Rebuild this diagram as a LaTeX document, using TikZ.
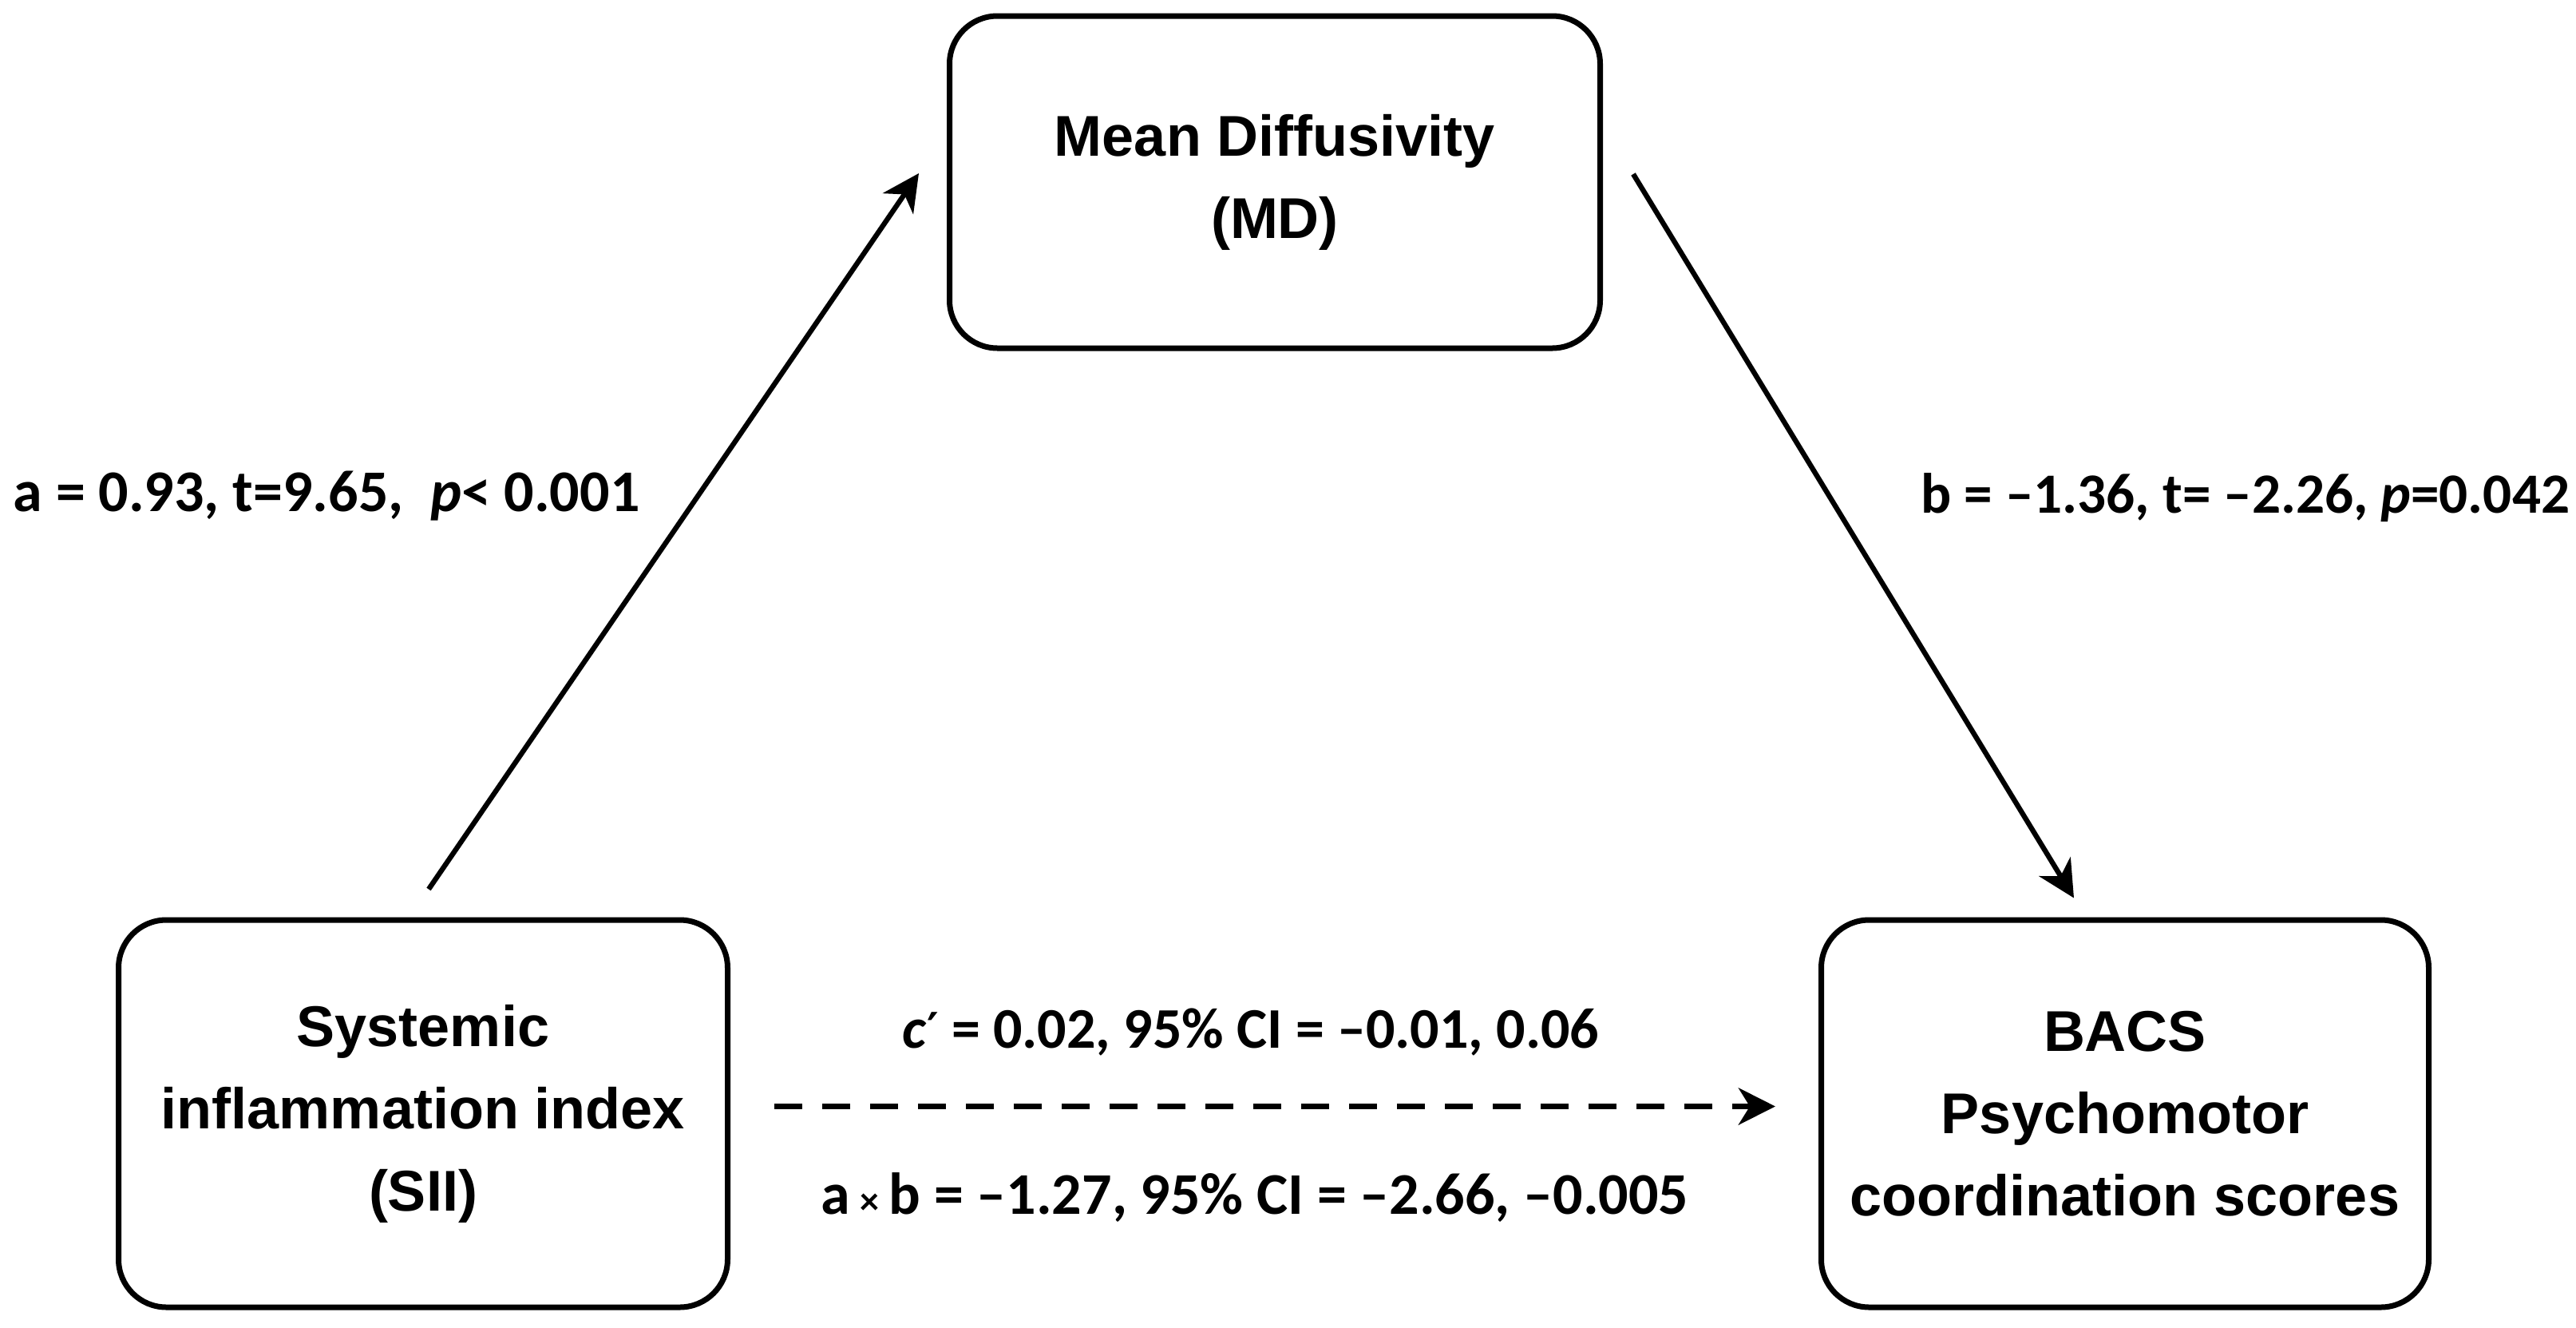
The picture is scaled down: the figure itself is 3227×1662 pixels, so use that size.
\documentclass[tikz,border=0pt]{standalone}
\usepackage{fontspec}
\setmainfont{Liberation Sans}
\newfontfamily\labfont{Carlito}
\newfontfamily\primefont{DejaVu Sans}
\usetikzlibrary{arrows.meta}
\begin{document}
\begin{tikzpicture}[x=0.25pt,y=-0.25pt,
  box/.style={draw, line width=1.75pt, rounded corners=15pt, inner sep=0pt, align=center,
    font=\fontsize{18}{25.75}\selectfont\bfseries},
  arr/.style={line width=1.6pt, -{Stealth[length=11.5pt,width=11.5pt,inset=3.5pt]}},
  lab/.style={inner sep=0pt, font=\labfont\bfseries\fontsize{18.5}{22}\selectfont}]
\useasboundingbox (0,0) rectangle (3227,1662);
\node[box, minimum width=203.75pt, minimum height=104pt] (md) at (1597,228) {Mean Diffusivity\\(MD)};
\node[box, minimum width=190.75pt, minimum height=121.25pt] (sii) at (530,1394.5) {Systemic\\inflammation index\\(SII)};
\node[box, minimum width=190.25pt, minimum height=121.25pt] (bacs) at (2662,1394.5) {BACS\\Psychomotor\\coordination scores};
\draw[arr] ([xshift=1.75pt,yshift=8.75pt]sii.north) -- ([xshift=-8.75pt,yshift=2.75pt]md.west);
\draw[arr] ([xshift=9.5pt,yshift=2.5pt]md.east) -- ([xshift=-16pt,yshift=6pt]bacs.north);
\draw[arr, line width=1.9pt, dash pattern=on 8.75pt off 6.25pt] ([xshift=13.75pt,yshift=2.25pt]sii.east) -- ([xshift=-13.5pt,yshift=2.25pt]bacs.west);
\node[lab, anchor=base west] (la) at (16,640) {a = 0.93, t=9.65, \ \textit{p}< 0.001};
\node[lab, anchor=base east, font=\labfont\bfseries\fontsize{17.8}{22}\selectfont] (lb) at (3220,642) {b = –1.36, t= –2.26, \textit{p}=0.042};
\node[lab, anchor=base, font=\labfont\bfseries\fontsize{18}{22}\selectfont] (lc) at (1567,1312) {\textit{c}{\primefont\fontsize{14}{14}\selectfont\raisebox{1pt}{′}} = 0.02, 95\% CI = –0.01, 0.06};
\node[lab, anchor=base] (lab) at (1572,1520) {a\,{\fontsize{12}{12}\selectfont ×}\,b = –1.27, 95\% CI = –2.66, –0.005};
\end{tikzpicture}
\end{document}
